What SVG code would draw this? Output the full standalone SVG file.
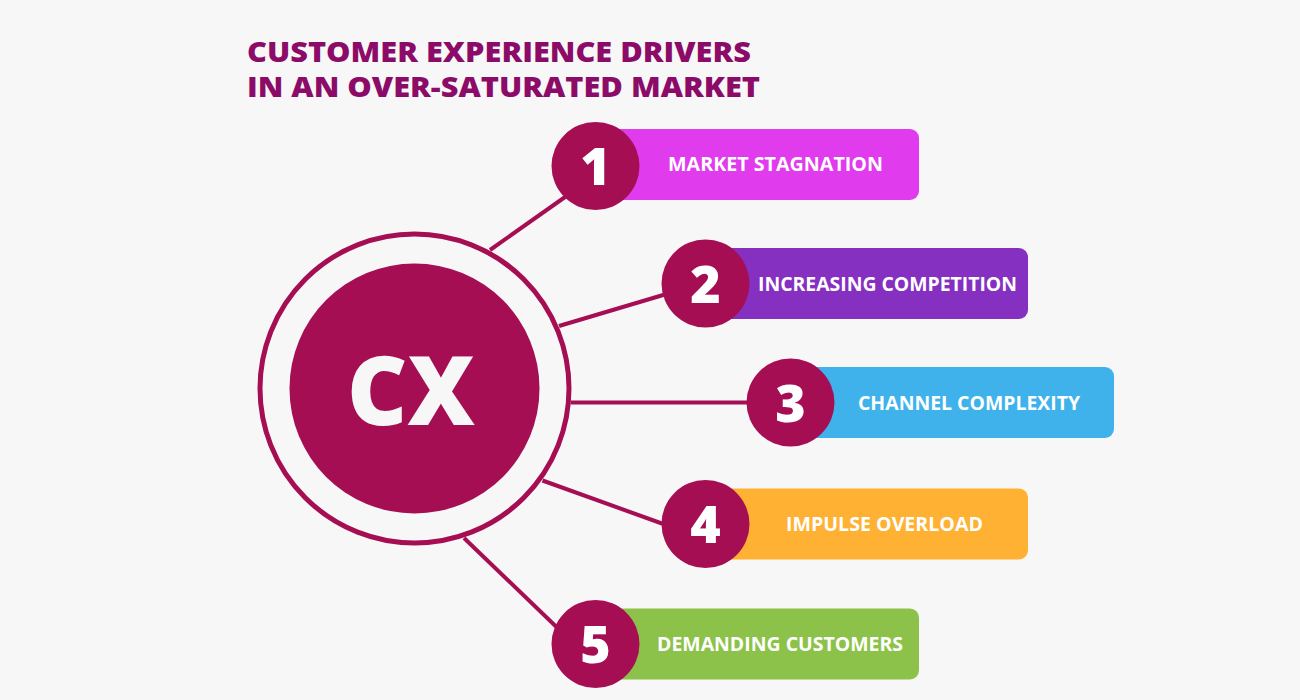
<svg xmlns="http://www.w3.org/2000/svg" width="1300" height="700" viewBox="0 0 1300 700">
<style>
.title{font-family:"Open Sans","Liberation Sans",sans-serif;font-weight:800;font-size:28px;fill:#8C0B68}
.num{font-family:"Open Sans","Liberation Sans",sans-serif;font-weight:800;font-size:52px;fill:#ffffff;text-anchor:middle}
.lbl{font-family:"Open Sans","Liberation Sans",sans-serif;font-weight:700;font-size:19px;fill:#ffffff;text-anchor:middle}
.badge{fill:#A60E53}
.conn{stroke:#A60E53;stroke-width:4;fill:none}
</style>
<rect width="1300" height="700" fill="#F7F7F7"/>
<g id="title">
<text class="title" x="247" y="62" textLength="504" lengthAdjust="spacingAndGlyphs">CUSTOMER EXPERIENCE DRIVERS</text>
<text class="title" x="247" y="97" textLength="513" lengthAdjust="spacingAndGlyphs">IN AN OVER-SATURATED MARKET</text>
</g>
<g id="connectors">
<line class="conn" x1="490" y1="250" x2="575" y2="190"/>
<line class="conn" x1="559" y1="326" x2="680" y2="290"/>
<line class="conn" x1="571" y1="402.5" x2="760" y2="402.5"/>
<line class="conn" x1="542.5" y1="480.5" x2="680" y2="530"/>
<line class="conn" x1="464" y1="538" x2="570" y2="640"/>
</g>
<g id="cx">
<circle cx="414.5" cy="388.5" r="154.5" fill="none" stroke="#A60E53" stroke-width="5"/>
<circle cx="414.5" cy="388.5" r="125" fill="#A60E53"/>
<text x="411" y="425" font-family="'Open Sans','Liberation Sans',sans-serif" font-weight="800" font-size="95" fill="#F7F7F7" text-anchor="middle" textLength="128" lengthAdjust="spacingAndGlyphs">CX</text>
</g>
<g id="item1">
<rect x="590" y="129" width="329" height="71" rx="9" fill="#E03CEE"/>
<circle class="badge" cx="595.5" cy="166" r="44"/>
<text class="num" x="595.5" y="185">1</text>
<text class="lbl" x="775.5" y="171" textLength="215" lengthAdjust="spacingAndGlyphs">MARKET STAGNATION</text>
</g>
<g id="item2">
<rect x="700" y="248" width="328" height="71" rx="9" fill="#8530C1"/>
<circle class="badge" cx="705.5" cy="283.5" r="44"/>
<text class="num" x="705.5" y="302.5">2</text>
<text class="lbl" x="887.5" y="290.5" textLength="259" lengthAdjust="spacingAndGlyphs">INCREASING COMPETITION</text>
</g>
<g id="item3">
<rect x="785" y="367" width="329" height="71" rx="9" fill="#3FB2EC"/>
<circle class="badge" cx="790.5" cy="402.5" r="44"/>
<text class="num" x="790.5" y="421.5">3</text>
<text class="lbl" x="969" y="409.5" textLength="222" lengthAdjust="spacingAndGlyphs">CHANNEL COMPLEXITY</text>
</g>
<g id="item4">
<rect x="700" y="488.5" width="328" height="71" rx="9" fill="#FFB133"/>
<circle class="badge" cx="705.5" cy="524" r="44"/>
<text class="num" x="705.5" y="543">4</text>
<text class="lbl" x="884.5" y="530.5" textLength="197" lengthAdjust="spacingAndGlyphs">IMPULSE OVERLOAD</text>
</g>
<g id="item5">
<rect x="590" y="608.5" width="329" height="71" rx="9" fill="#8DC24A"/>
<circle class="badge" cx="595.5" cy="644" r="44"/>
<text class="num" x="595.5" y="663">5</text>
<text class="lbl" x="780" y="650.5" textLength="246" lengthAdjust="spacingAndGlyphs">DEMANDING CUSTOMERS</text>
</g>
</svg>
